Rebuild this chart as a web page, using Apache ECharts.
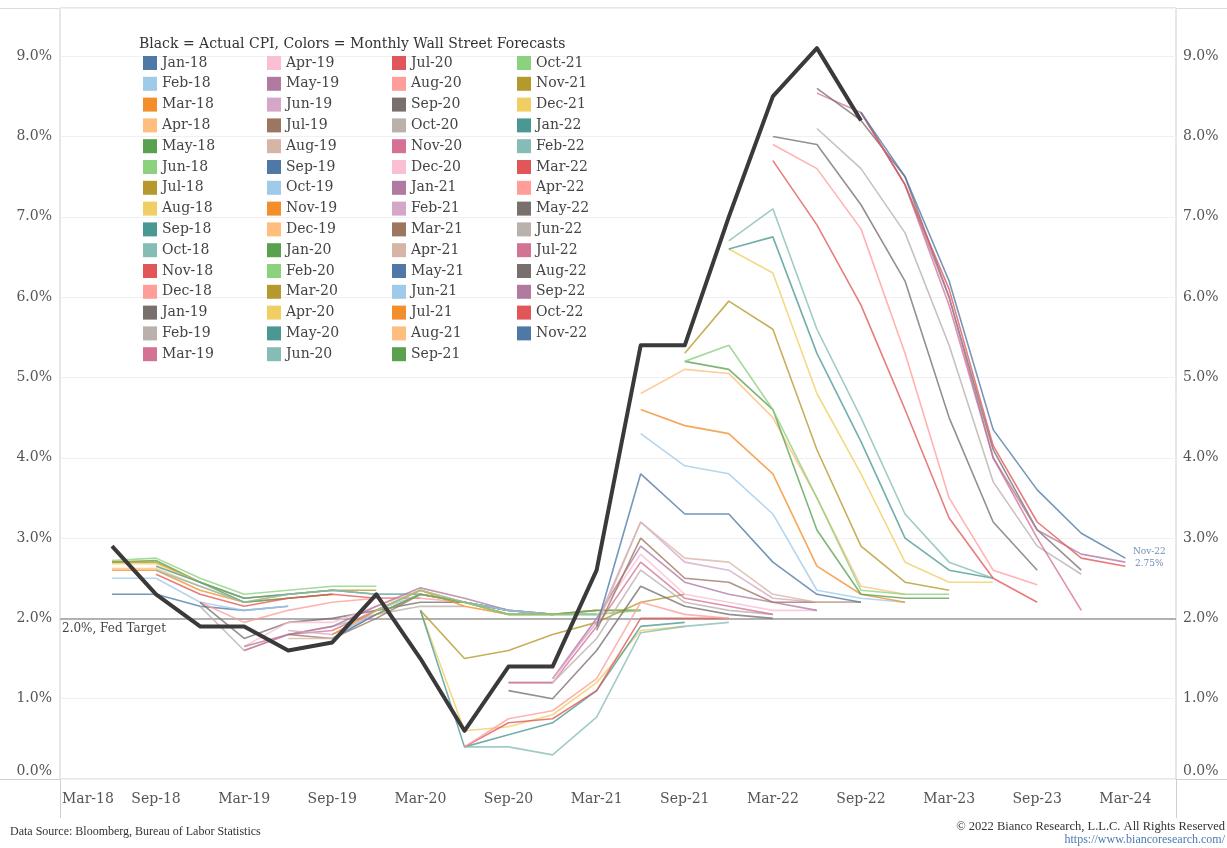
<!DOCTYPE html>
<html>
<head>
<meta charset="utf-8">
<title>CPI forecasts</title>
<script src="https://cdn.jsdelivr.net/npm/echarts@6/dist/echarts.min.js"></script>
<style>
  html, body { margin: 0; padding: 0; background: #fff; }
  #main { width: 1227px; height: 848px; }
</style>
</head>
<body>
<div id="main"></div>
<script>
// quarter ends on the x axis, index 0 = Mar-18
var quarters = ['Mar-18','Jun-18','Sep-18','Dec-18','Mar-19','Jun-19','Sep-19','Dec-19',
  'Mar-20','Jun-20','Sep-20','Dec-20','Mar-21','Jun-21','Sep-21','Dec-21',
  'Mar-22','Jun-22','Sep-22','Dec-22','Mar-23','Jun-23','Sep-23','Dec-23','Mar-24'];
var labelQuarters = [0, 2, 4, 6, 8, 10, 12, 14, 16, 18, 20, 22, 24];

// actual CPI yoy, by quarter index
var actualCPI = [null, 2.9, 2.3, 1.9, 1.9, 1.6, 1.7, 2.3, 1.5, 0.6, 1.4, 1.4, 2.6, 5.4, 5.4, 7.0, 8.5, 9.1, 8.2];
var fedTarget = 2.0;

// monthly wall street forecasts
var forecastMonths = ['Jan-18','Feb-18','Mar-18','Apr-18','May-18','Jun-18','Jul-18','Aug-18','Sep-18','Oct-18','Nov-18','Dec-18',
  'Jan-19','Feb-19','Mar-19','Apr-19','May-19','Jun-19','Jul-19','Aug-19','Sep-19','Oct-19','Nov-19','Dec-19',
  'Jan-20','Feb-20','Mar-20','Apr-20','May-20','Jun-20','Jul-20','Aug-20','Sep-20','Oct-20','Nov-20','Dec-20',
  'Jan-21','Feb-21','Mar-21','Apr-21','May-21','Jun-21','Jul-21','Aug-21','Sep-21','Oct-21','Nov-21','Dec-21',
  'Jan-22','Feb-22','Mar-22','Apr-22','May-22','Jun-22','Jul-22','Aug-22','Sep-22','Oct-22','Nov-22'];

// quarter index of each forecast's first value
var forecastStart = [1,1,1,1,1,1,1,1,2,2,2,3,
  3,3,4,4,4,5,5,5,6,6,6,7,
  7,7,8,8,8,9,9,9,10,10,10,11,
  11,11,12,12,12,13,13,13,14,14,14,15,
  15,15,16,16,16,17,17,17,18,18,18];

var forecastValues = [
  [2.3, 2.3, 2.15, 2.1, 2.15],
  [2.5, 2.5, 2.2, 2.1, 2.15],
  [2.6, 2.6, 2.35, 2.2, 2.25, 2.3],
  [2.62, 2.62, 2.4, 2.2, 2.3, 2.35],
  [2.7, 2.72, 2.45, 2.2, 2.25, 2.3],
  [2.72, 2.75, 2.5, 2.3, 2.35, 2.4, 2.4],
  [2.7, 2.7, 2.45, 2.25, 2.3, 2.35, 2.35],
  [2.68, 2.68, 2.45, 2.25, 2.3, 2.35, 2.3],
  [2.65, 2.45, 2.25, 2.3, 2.35, 2.3, 2.3],
  [2.6, 2.4, 2.2, 2.3, 2.35, 2.3, 2.3],
  [2.55, 2.3, 2.15, 2.25, 2.3, 2.25, 2.25],
  [2.2, 1.95, 2.1, 2.2, 2.25, 2.25, 2.2],
  [2.2, 1.75, 1.95, 2.0, 2.1, 2.2, 2.2],
  [2.15, 1.6, 1.8, 1.9, 2.05, 2.15, 2.15],
  [1.6, 1.8, 1.85, 2.1, 2.35, 2.2, 2.1],
  [1.65, 1.95, 1.95, 2.15, 2.35, 2.2, 2.1],
  [1.65, 1.8, 1.9, 2.15, 2.38, 2.25, 2.1],
  [1.85, 1.8, 2.05, 2.3, 2.2, 2.1, 2.05],
  [1.8, 1.75, 2.0, 2.3, 2.2, 2.1, 2.05],
  [1.75, 1.75, 2.05, 2.3, 2.2, 2.1, 2.05],
  [1.75, 2.05, 2.3, 2.2, 2.1, 2.05, 2.05],
  [1.75, 2.1, 2.3, 2.2, 2.1, 2.05, 2.05],
  [1.8, 2.1, 2.35, 2.15, 2.05, 2.05, 2.1],
  [2.05, 2.3, 2.2, 2.05, 2.05, 2.1, 2.1],
  [2.05, 2.3, 2.2, 2.05, 2.05, 2.1, 2.1],
  [2.1, 2.35, 2.2, 2.05, 2.05, 2.05, 2.1],
  [2.1, 1.5, 1.6, 1.8, 1.95, 2.2, 2.3],
  [2.1, 0.6, 0.65, 0.8, 1.2, 1.85, 1.9],
  [2.1, 0.4, 0.55, 0.7, 1.1, 1.9, 1.95],
  [0.4, 0.4, 0.3, 0.77, 1.82, 1.9, 1.95],
  [0.4, 0.7, 0.75, 1.1, 2.0, 2.0, 2.0],
  [0.4, 0.75, 0.85, 1.25, 2.2, 2.05, 2.0],
  [1.1, 1.0, 1.6, 2.4, 2.15, 2.05, 2.0],
  [1.2, 1.2, 1.75, 2.6, 2.2, 2.1, 2.05],
  [1.2, 1.2, 1.9, 2.7, 2.25, 2.15, 2.05],
  [1.2, 2.0, 2.8, 2.3, 2.2, 2.1, 2.1],
  [1.25, 2.0, 2.9, 2.45, 2.3, 2.2, 2.1],
  [1.25, 1.95, 3.2, 2.7, 2.6, 2.25, 2.2],
  [1.85, 3.0, 2.5, 2.45, 2.2, 2.2, 2.2],
  [1.9, 3.2, 2.75, 2.7, 2.3, 2.2, 2.2],
  [1.9, 3.8, 3.3, 3.3, 2.7, 2.3, 2.2],
  [4.3, 3.9, 3.8, 3.3, 2.35, 2.25, 2.2],
  [4.6, 4.4, 4.3, 3.8, 2.65, 2.3, 2.2],
  [4.8, 5.1, 5.05, 4.5, 3.5, 2.4, 2.3],
  [5.2, 5.1, 4.6, 3.1, 2.3, 2.25, 2.25],
  [5.2, 5.4, 4.6, 3.5, 2.35, 2.3, 2.3],
  [5.3, 5.95, 5.6, 4.1, 2.9, 2.45, 2.35],
  [6.6, 6.3, 4.8, 3.8, 2.7, 2.45, 2.45],
  [6.6, 6.75, 5.3, 4.2, 3.0, 2.6, 2.5],
  [6.7, 7.1, 5.6, 4.5, 3.3, 2.7, 2.5],
  [7.7, 6.9, 5.9, 4.6, 3.25, 2.5, 2.2],
  [7.9, 7.6, 6.85, 5.3, 3.5, 2.6, 2.42],
  [8.0, 7.9, 7.15, 6.2, 4.5, 3.2, 2.6],
  [8.1, 7.6, 6.8, 5.4, 3.7, 2.9, 2.55],
  [8.54, 8.3, 7.4, 5.9, 4.0, 3.0, 2.1],
  [8.6, 8.2, 7.5, 6.0, 4.1, 3.1, 2.6],
  [8.3, 7.4, 6.0, 4.0, 3.1, 2.8, 2.7],
  [8.3, 7.4, 6.1, 4.15, 3.2, 2.75, 2.65],
  [8.3, 7.5, 6.2, 4.35, 3.6, 3.06, 2.75]
];

// tableau 20, cycled; the last few months were recoloured in the original
var palette = ['#4E79A7','#A0CBE8','#F28E2B','#FFBE7D','#59A14F','#8CD17D','#B6992D','#F1CE63','#499894','#86BCB6',
  '#E15759','#FF9D9A','#79706E','#BAB0AC','#D37295','#FABFD2','#B07AA1','#D4A6C8','#9D7660','#D7B5A6'];
var colorOverride = { 'Aug-22': '#79706E', 'Oct-22': '#E15759', 'Nov-22': '#4E79A7' };

var serif = 'DejaVu Serif';
var chart = echarts.init(document.getElementById('main'));

var series = forecastMonths.map(function(name, i){
  var s = {
    name: name,
    type: 'line',
    symbol: 'none',
    color: colorOverride[name] || palette[i % palette.length],
    lineStyle: { width: 1.6, opacity: 0.78 },
    emphasis: { disabled: true },
    z: 2,
    data: forecastValues[i].map(function(v, k){ return [forecastStart[i] + k, v]; })
  };
  if (i === forecastMonths.length - 1) {
    var last = forecastValues[i][forecastValues[i].length - 1];
    s.endLabel = {
      show: true,
      formatter: name + '\n' + last.toFixed(2) + '%',
      fontFamily: serif, fontSize: 9, color: '#6d8fb8', lineHeight: 12,
      align: 'center', distance: 24
    };
  }
  return s;
});

series.push({
  name: 'Actual CPI',
  type: 'line',
  symbol: 'none',
  color: '#3a3a3a',
  lineStyle: { width: 4, color: '#3a3a3a', join: 'round' },
  emphasis: { disabled: true },
  z: 5,
  data: actualCPI.map(function(v, k){ return v == null ? null : [k, v]; }).filter(function(d){ return d; }),
  markLine: {
    silent: true,
    symbol: 'none',
    z: 1,
    lineStyle: { color: '#9a9a9a', width: 1.5, type: 'solid' },
    label: {
      position: 'insideStartBottom', distance: [2, 4],
      formatter: fedTarget.toFixed(1) + '%, Fed Target',
      fontFamily: serif, fontSize: 12, color: '#444'
    },
    data: [{ yAxis: fedTarget }]
  }
});

var legendCols = [forecastMonths.slice(0, 15), forecastMonths.slice(15, 30), forecastMonths.slice(30, 45), forecastMonths.slice(45)];
var legendLeft = [143, 267, 392, 517];
var legends = legendCols.map(function(col, c){
  return {
    data: col,
    orient: 'vertical',
    left: legendLeft[c],
    top: 56,
    padding: 0,
    itemWidth: 14,
    itemHeight: 14,
    itemGap: 6.8,
    icon: 'rect',
    selectedMode: false,
    textStyle: { fontFamily: serif, fontSize: 14, color: '#444' }
  };
});

// 0.0% sits a little above its line in the original
var yLabel = function(v){
  if (Math.abs(v - Math.round(v)) > 1e-6) return '';
  return v === 0 ? '{zero|0.0%}' : v.toFixed(1) + '%';
};
var yRich = { zero: { padding: [0, 0, 16, 0], fontFamily: serif, fontSize: 14, color: '#555' } };

var opt = {
  animation: false,
  backgroundColor: '#fff',
  title: [
    { text: 'Black = Actual CPI, Colors = Monthly Wall Street Forecasts', left: 139, top: 37, padding: 0,
      textStyle: { fontFamily: serif, fontSize: 14, fontWeight: 'normal', color: '#333' } },
    { text: 'Data Source: Bloomberg, Bureau of Labor Statistics', left: 10, top: 826, padding: 0,
      textStyle: { fontFamily: 'Liberation Serif', fontSize: 12, fontWeight: 'normal', color: '#333' } },
    { text: '\u00a9 2022 Bianco Research, L.L.C. All Rights Reserved', right: 2, top: 820, padding: 0,
      textStyle: { fontFamily: 'Liberation Serif', fontSize: 12.5, fontWeight: 'normal', color: '#333' } },
    { text: 'https://www.biancoresearch.com/', right: 2, top: 834, padding: 0,
      textStyle: { fontFamily: 'Liberation Serif', fontSize: 12, fontWeight: 'normal', color: '#4a7ab5' } }
  ],
  legend: legends,
  grid: { left: 60, right: 51, top: 8, bottom: 69, show: true, borderColor: '#cfcfcf', borderWidth: 1 },
  xAxis: {
    type: 'value',
    min: -0.18,
    max: 25.15,
    axisLine: { show: false },
    axisTick: { show: false },
    splitLine: { show: false },
    axisLabel: {
      customValues: labelQuarters,
      margin: 13,
      fontFamily: serif, fontSize: 14, color: '#555',
      formatter: function(v){
        var s = quarters[Math.round(v)];
        return Math.round(v) === 0 ? '{first|' + s + '}' : s;
      },
      rich: { first: { padding: [0, 0, 0, 40], fontFamily: serif, fontSize: 14, color: '#555' } }
    }
  },
  yAxis: [
    { type: 'value', min: 0, max: 9.6, interval: 1, position: 'left',
      axisLine: { show: false }, axisTick: { show: false },
      splitLine: { show: true, lineStyle: { color: '#f0f0f0', width: 1 } },
      axisLabel: { margin: 8, fontFamily: serif, fontSize: 14, color: '#555', formatter: yLabel, rich: yRich } },
    { type: 'value', min: 0, max: 9.6, interval: 1, position: 'right',
      axisLine: { show: false }, axisTick: { show: false }, splitLine: { show: false },
      axisLabel: { margin: 7, fontFamily: serif, fontSize: 14, color: '#555', formatter: yLabel, rich: yRich } }
  ],
  graphic: [
    { type: 'line', shape: { x1: 0, y1: 779.5, x2: 1227, y2: 779.5 }, style: { stroke: '#cfcfcf', lineWidth: 1 }, silent: true },
    { type: 'line', shape: { x1: 0, y1: 8.5, x2: 1227, y2: 8.5 }, style: { stroke: '#dcdcdc', lineWidth: 1 }, silent: true },
    { type: 'line', shape: { x1: 60.5, y1: 779, x2: 60.5, y2: 818 }, style: { stroke: '#cfcfcf', lineWidth: 1 }, silent: true },
    { type: 'line', shape: { x1: 1176.5, y1: 779, x2: 1176.5, y2: 818 }, style: { stroke: '#cfcfcf', lineWidth: 1 }, silent: true }
  ],
  series: series
};

chart.setOption(opt);
</script>
</body>
</html>
